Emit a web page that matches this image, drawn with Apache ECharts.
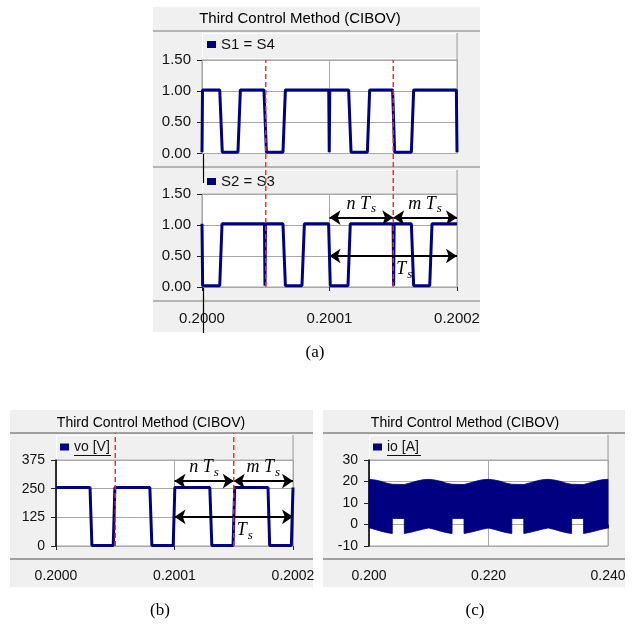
<!DOCTYPE html>
<html>
<head>
<meta charset="utf-8">
<script src="https://cdn.jsdelivr.net/npm/echarts@6/dist/echarts.min.js"></script>
<style>
html,body{margin:0;padding:0;background:#fff}
#main{width:635px;height:624px}
</style>
</head>
<body>
<div id="main"></div>
<script>
// time offsets in microseconds from t = 0.2000 s
var xTicksA = ['0.2000', '0.2001', '0.2002'];
var xTicksC = ['0.200', '0.220', '0.240'];

var s1Us  = [0, 0.4, 13.9, 15.9, 28.2, 30.1, 48.6, 50.5, 63.5, 65.4, 99.4, 99.8, 100.2, 115, 116.9, 129.7, 131.5, 149.5, 151.1, 164.2, 166, 199.5, 200];
var s1Val = [0.02, 1.02, 1.02, 0.02, 0.02, 1.02, 1.02, 0.02, 0.02, 1.02, 1.02, 0.02, 1.02, 1.02, 0.02, 0.02, 1.02, 1.02, 0.02, 0.02, 1.02, 1.02, 0.02];

var s2Us  = [0, 0.5, 13.9, 15.7, 49.0, 49.4, 49.8, 63.5, 65.4, 78.4, 80.3, 99.3, 100.6, 114.5, 116.3, 149.9, 150.3, 150.7, 164.2, 166, 178.6, 180.4, 200];
var s2Val = [1.02, 0.02, 0.02, 1.02, 1.02, 0.02, 1.02, 1.02, 0.02, 0.02, 1.02, 1.02, 0.02, 0.02, 1.02, 1.02, 0.02, 1.02, 1.02, 0.02, 0.02, 1.02, 1.02];

var voUs  = [0, 28.7, 30.3, 48.3, 49.7, 79.2, 80.9, 98.9, 100.3, 129.8, 131.5, 149.4, 150.8, 178.9, 180.3, 198.6, 200];
var voVal = [255, 255, 2, 2, 255, 255, 2, 2, 255, 255, 2, 2, 255, 255, 2, 2, 255];

// dashed period markers and n/m/T arrows (microseconds)
var dashUs = [50, 150];
var nSpan = [100, 150];
var mSpan = [150, 200];
var tSpan = [100, 200];

// io envelope, time offsets in ms from t = 0.200 s
var ioMs  = [0, 1, 2, 3, 3.9, 3.91, 5.9, 5.91, 7, 8, 9,
             10, 11, 12, 13, 13.9, 13.91, 15.9, 15.91, 17, 18, 19,
             20, 21, 22, 23, 23.9, 23.91, 25.9, 25.91, 27, 28, 29,
             30, 31, 32, 33, 33.9, 33.91, 35.9, 35.91, 37, 38, 39, 40];
var ioUp  = [21.0, 20.7, 20.1, 19.2, 18.7, 18.7, 18.6, 18.6, 19.4, 20.2, 20.8,
             21.0, 20.7, 20.1, 19.2, 18.7, 18.7, 18.6, 18.6, 19.4, 20.2, 20.8,
             21.0, 20.7, 20.1, 19.2, 18.7, 18.7, 18.6, 18.6, 19.4, 20.2, 20.8,
             21.0, 20.7, 20.1, 19.2, 18.7, 18.7, 18.6, 18.6, 19.4, 20.2, 20.8, 21.0];
var ioLow = [-1.5, -2.3, -3.1, -3.8, -4.2, 2.8, 2.8, -4.2, -3.6, -2.9, -2.2,
             -1.6, -2.3, -3.1, -3.8, -4.2, 2.8, 2.8, -4.2, -3.6, -2.9, -2.2,
             -1.6, -2.3, -3.1, -3.8, -4.2, 2.8, 2.8, -4.2, -3.6, -2.9, -2.2,
             -1.6, -2.3, -3.1, -3.8, -4.2, 2.8, 2.8, -4.2, -3.6, -2.9, -2.2, -1.6];

var NAVY = '#000080';
var SANS = 'Liberation Sans';
var SERIF = 'Liberation Serif';

function pairs(xs, ys) {
	return xs.map(function(x, i) { return [x, ys[i]]; });
}

function arrowLabel(txt, pos, pad) {
	return {
		show : true,
		position : pos,
		color : '#000',
		distance : 2,
		padding : pad || 0,
		formatter : '{v|' + txt + '}{s|s}',
		rich : {
			v : { fontFamily : SERIF, fontStyle : 'italic', fontSize : 18, color : '#000' },
			s : { fontFamily : SERIF, fontStyle : 'italic', fontSize : 13, color : '#000', padding : [10, 0, 0, 1] }
		}
	};
}

function arrows(yN, yT) {
	return {
		silent : true,
		symbol : [ 'arrow', 'arrow' ],
		symbolSize : [ 11, 11 ],
		lineStyle : { color : '#000', width : 2, type : 'solid' },
		data : [
			[ { coord : [ nSpan[0], yN ], label : arrowLabel('n T', 'middle') }, { coord : [ nSpan[1], yN ] } ],
			[ { coord : [ mSpan[0], yN ], label : arrowLabel('m T', 'middle') }, { coord : [ mSpan[1], yN ] } ],
			[ { coord : [ tSpan[0], yT ], label : arrowLabel('T', 'insideMiddleBottom', [0, 0, 0, 22]) }, { coord : [ tSpan[1], yT ] } ]
		]
	};
}

function grid(l, t, w, h, plain) {
	return plain ? { left : l, top : t, width : w, height : h, show : false }
		: { left : l, top : t, width : w, height : h, show : true, backgroundColor : '#fff', borderColor : '#a0a0a0', borderWidth : 1 };
}

var gridLine = { show : true, lineStyle : { color : '#a8a8a8', width : 1 } };

function xAx(g, max, iv, labels, off, fs) {
	return {
		type : 'value', gridIndex : g, min : 0, max : max, interval : iv, offset : off || 0,
		axisLine : { show : false },
		axisTick : { show : !!labels, length : 4, lineStyle : { color : '#222' } },
		axisLabel : {
			show : !!labels, margin : 10, fontSize : fs, fontFamily : SANS, color : '#111',
			formatter : function(v) { return labels ? labels[Math.round(v / iv)] : ''; }
		},
		splitLine : gridLine
	};
}

function yAx(g, min, max, iv, dec, fs, line) {
	return {
		type : 'value', gridIndex : g, min : min, max : max, interval : iv,
		axisLine : { show : line, lineStyle : { color : '#000', width : 1.5 } },
		axisTick : { show : true, length : 5, lineStyle : { color : '#222' } },
		axisLabel : { margin : 11, fontSize : fs, fontFamily : SANS, color : '#111',
			formatter : function(v) { return v.toFixed(dec); } },
		splitLine : gridLine
	};
}

function hidden(g, max) {
	return { type : 'value', gridIndex : g, min : 0, max : max, show : false };
}

function dashSeries(xi, yi) {
	return dashUs.map(function(u) {
		return {
			type : 'line', xAxisIndex : xi, yAxisIndex : yi, z : 5, silent : true,
			symbol : 'none', data : [ [ u, 0 ], [ u, 1 ] ],
			lineStyle : { color : '#ff2020', width : 1.4, type : [ 5, 3 ] }
		};
	});
}

function legend(name, l, t, fs) {
	return {
		data : [ name ], left : l, top : t, padding : 0, icon : 'rect',
		itemWidth : 9, itemHeight : 7, selectedMode : false,
		textStyle : { fontSize : fs, fontFamily : SANS, color : '#111' }
	};
}

function rect(x, y, w, h, fill, stroke) {
	return { type : 'rect', z : -10, silent : true, shape : { x : x, y : y, width : w, height : h },
		style : { fill : fill, stroke : stroke || null, lineWidth : 1 } };
}
function line(x1, y1, x2, y2, color, w) {
	return { type : 'line', z : -5, silent : true, shape : { x1 : x1, y1 : y1, x2 : x2, y2 : y2 },
		style : { stroke : color, lineWidth : w } };
}
function text(x, y, s, fs, fam) {
	return { type : 'text', z : 10, silent : true, x : x, y : y,
		style : { text : s, fontSize : fs, fontFamily : fam, fill : '#000', align : 'center', verticalAlign : 'middle' } };
}

// io switching band: one polygon between the upper and lower envelope
function renderBand(params, api) {
	if (params.dataIndex !== 0) return;
	var pts = [];
	var i;
	for (i = 0; i < ioMs.length; i++) pts.push(api.coord([ ioMs[i], ioUp[i] ]));
	for (i = ioMs.length - 1; i >= 0; i--) pts.push(api.coord([ ioMs[i], ioLow[i] ]));
	return { type : 'polygon', shape : { points : pts },
		style : { fill : NAVY, stroke : NAVY, lineWidth : 0.8 } };
}

var chart = echarts.init(document.getElementById('main'));
chart.setOption({
	animation : false,
	backgroundColor : '#fff',
	graphic : [
		// panel (a)
		rect(153, 7, 327, 325, '#f0f0f0'),
		line(153, 31, 480, 31, '#a0a0a0', 1.5),
		line(153, 167, 480, 167, '#a0a0a0', 1.5),
		line(153, 301, 480, 301, '#a0a0a0', 1.5),
		rect(202.5, 33.5, 254, 25, '#f0f0f0', '#ffffff'),
		line(457, 33, 457, 60, '#909090', 1),
		rect(202.5, 170.5, 254, 23, '#f0f0f0', '#ffffff'),
		line(457, 170, 457, 194, '#909090', 1),
		line(203.5, 105, 203.5, 183, '#000', 1.2),
		line(203.5, 240, 203.5, 333, '#000', 1.2),
		text(300, 19, 'Third Control Method (CIBOV)', 15, SANS),
		text(315, 353, '(a)', 17, SERIF),
		// panel (b)
		rect(10, 410, 303, 177, '#f0f0f0'),
		line(10, 433, 313, 433, '#a0a0a0', 2),
		line(10, 559, 313, 559, '#a0a0a0', 2),
		rect(56.5, 435.5, 236, 24, '#f0f0f0', '#ffffff'),
		line(293, 435, 293, 460, '#909090', 1),
		line(74, 455.5, 111, 455.5, '#111', 1),
		text(151, 423, 'Third Control Method (CIBOV)', 14, SANS),
		text(160, 611, '(b)', 17, SERIF),
		// panel (c)
		rect(323, 410, 302, 177, '#f0f0f0'),
		line(323, 433, 625, 433, '#a0a0a0', 2),
		line(323, 559, 625, 559, '#a0a0a0', 2),
		rect(369.5, 435.5, 238, 24, '#f0f0f0', '#ffffff'),
		line(608, 435, 608, 460, '#909090', 1),
		line(387, 455.5, 421, 455.5, '#111', 1),
		text(465, 423, 'Third Control Method (CIBOV)', 14, SANS),
		text(475, 611, '(c)', 17, SERIF)
	],
	legend : [
		legend('S1 = S4', 207, 37, 15),
		legend('S2 = S3', 207, 174, 15),
		legend('vo [V]', 60, 440, 14),
		legend('io [A]', 373, 440, 14)
	],
	grid : [
		grid(202, 60, 255, 93.5),
		grid(202, 194, 255, 93),
		grid(202, 60, 255, 227, true),
		grid(56, 460, 237, 86),
		grid(369, 460, 239, 86),
		grid(56, 433, 237, 113, true)
	],
	xAxis : [
		xAx(0, 200, 100, null),
		xAx(1, 200, 100, xTicksA, 14, 15),
		hidden(2, 200),
		xAx(3, 200, 100, xTicksA, 13, 14),
		xAx(4, 40, 20, xTicksC, 13, 14),
		hidden(5, 200)
	],
	yAxis : [
		yAx(0, 0, 1.5, 0.5, 2, 15, false),
		yAx(1, 0, 1.5, 0.5, 2, 15, false),
		hidden(2, 1),
		yAx(3, 0, 375, 125, 0, 14, true),
		yAx(4, -10, 30, 10, 0, 14, true),
		hidden(5, 1)
	],
	series : [
		{
			name : 'S1 = S4', type : 'line', xAxisIndex : 0, yAxisIndex : 0,
			symbol : 'none', color : NAVY, lineStyle : { color : NAVY, width : 3 },
			data : pairs(s1Us, s1Val)
		},
		{
			name : 'S2 = S3', type : 'line', xAxisIndex : 1, yAxisIndex : 1,
			symbol : 'none', color : NAVY, lineStyle : { color : NAVY, width : 3 },
			data : pairs(s2Us, s2Val),
			markLine : arrows(1.12, 0.5)
		},
		{
			name : 'vo [V]', type : 'line', xAxisIndex : 3, yAxisIndex : 3,
			symbol : 'none', color : NAVY, lineStyle : { color : NAVY, width : 3 },
			data : pairs(voUs, voVal),
			markLine : arrows(283, 127)
		},
		{
			name : 'io [A]', type : 'custom', xAxisIndex : 4, yAxisIndex : 4,
			color : NAVY, itemStyle : { color : NAVY },
			renderItem : renderBand,
			encode : { x : 0, y : [ 1, 2 ] },
			data : ioMs.map(function(t, i) { return [ t, ioLow[i], ioUp[i] ]; })
		}
	].concat(dashSeries(2, 2)).concat(dashSeries(5, 5))
});
</script>
</body>
</html>
